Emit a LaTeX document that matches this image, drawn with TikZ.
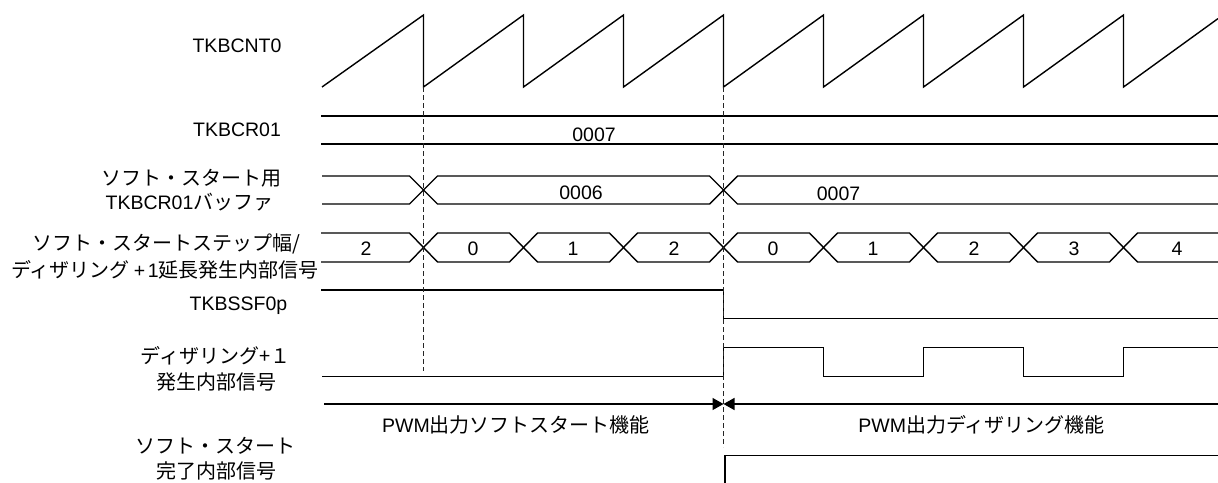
\documentclass[tikz,border=0pt]{standalone}
\usepackage{fontspec}
\setmainfont{Liberation Sans}
\newfontfamily\jpfont{Noto Sans CJK JP}
\newcommand\jtxt[1]{{\jpfont\fontsize{20}{24}\selectfont #1}}
\usetikzlibrary{arrows.meta}
\begin{document}
\begin{tikzpicture}[x=1pt,y=-1pt,
  sig/.style={line width=1.4pt,line join=miter,line cap=butt},
  guide/.style={line width=0.9pt,black!85,dash pattern=on 5pt off 3pt},
  txt/.style={font=\fontsize{19.5}{23}\selectfont,inner sep=0pt,anchor=base},
  tip/.style={-{Triangle[length=11pt,width=12pt]}}]
\useasboundingbox (0,0) rectangle (1218,482);

% ---- labels ----
\node[txt] (lcnt) at (237,52.3) {TKBCNT0};
\node[txt] (lcr) at (237,136.7) {TKBCR01};
\node[txt] (lbufa) at (191,185) {\jtxt{ソフト・スタート用}};
\node[txt] (lbufb) at (189.5,209.3) {TKBCR01\jtxt{バッファ}};
\node[txt] (lstpa) at (166.5,250.6) {\jtxt{ソフト・スタートステップ幅/}};
\node[txt] (lstpb) at (165,277.6) {\jtxt{ディザリング}\kern4pt+\kern2.5pt1\jtxt{延長発生内部信号}};
\node[txt] (lssf) at (238.5,310) {TKBSSF0p};
\node[txt] (ldita) at (215.5,363) {\jtxt{ディザリング+１}};
\node[txt] (lditb) at (216,389.6) {\jtxt{発生内部信号}};
\node[txt] (lcmpa) at (215,453) {\jtxt{ソフト・スタート}};
\node[txt] (lcmpb) at (216,478) {\jtxt{完了内部信号}};

% ---- TKBCNT0 sawtooth ----
\draw[sig] (322,87) \foreach \c in {423.5,523.5,623.5,723.5,823.5,923.5,1023.5,1123.5} { -- (\c,15) -- (\c,87) } -- (1218,18.6);

% ---- TKBCR01 ----
\draw[sig] (321,116) -- (1218,116);
\draw[sig] (321,144) -- (1218,144);
\node[txt] (vcr) at (594,141.7) {0007};

% ---- buffer bus ----
\draw[sig] (322,176) -- (409.5,176) -- (423.5,190) -- (409.5,204) -- (322,204);
\draw[sig] (423.5,190) -- (437.5,176) -- (709.5,176) -- (723.5,190) -- (709.5,204) -- (437.5,204) -- cycle;
\draw[sig] (1218,176) -- (737.5,176) -- (723.5,190) -- (737.5,204) -- (1218,204);
\node[txt] (vb1) at (581,199) {0006};
\node[txt] (vb2) at (838.5,200) {0007};

% ---- step bus ----
\draw[sig] (321,233) -- (409.5,233) -- (423.5,247.5) -- (409.5,262) -- (321,262);
\foreach \a in {423.5,523.5,623.5,723.5,823.5,923.5,1023.5}
  \draw[sig] (\a,247.5) -- (\a+14,233) -- (\a+86,233) -- (\a+100,247.5) -- (\a+86,262) -- (\a+14,262) -- cycle;
\draw[sig] (1218,233) -- (1137.5,233) -- (1123.5,247.5) -- (1137.5,262) -- (1218,262);
\foreach \x/\v [count=\i] in {366/2,473/0,573/1,674/2,773/0,873/1,974/2,1074/3,1177/4}
  \node[txt] (vs\i) at (\x,255) {\v};

% ---- TKBSSF0p ----
\draw[sig] (321,290) -- (723.5,290) -- (723.5,318.5) -- (1218,318.5);

% ---- dithering +1 signal ----
\draw[sig] (322,376.5) -- (723.5,376.5) -- (723.5,347.5) -- (823.5,347.5) -- (823.5,376.5)
  -- (923.5,376.5) -- (923.5,347.5) -- (1023.5,347.5) -- (1023.5,376.5)
  -- (1123.5,376.5) -- (1123.5,347.5) -- (1218,347.5);

% ---- guides ----
\draw[guide] (423.5,87) -- (423.5,371);
\draw[guide] (723.5,87) -- (723.5,447);

% ---- function range arrows ----
\coordinate (aL) at (324,404);
\coordinate (aM) at (723.5,404);
\coordinate (aR) at (1218,404);
\draw[sig,tip] (aL) -- (aM);
\draw[sig,tip] (aR) -- (aM);
\node[txt] (fsoft) at (516,432.5) {PWM\jtxt{出力ソフトスタート機能}};
\node[txt] (fdith) at (981.5,432.7) {PWM\jtxt{出力ディザリング機能}};

% ---- soft start complete ----
\draw[sig] (725,484) -- (725,455.5) -- (1218,455.5);
\end{tikzpicture}
\end{document}
